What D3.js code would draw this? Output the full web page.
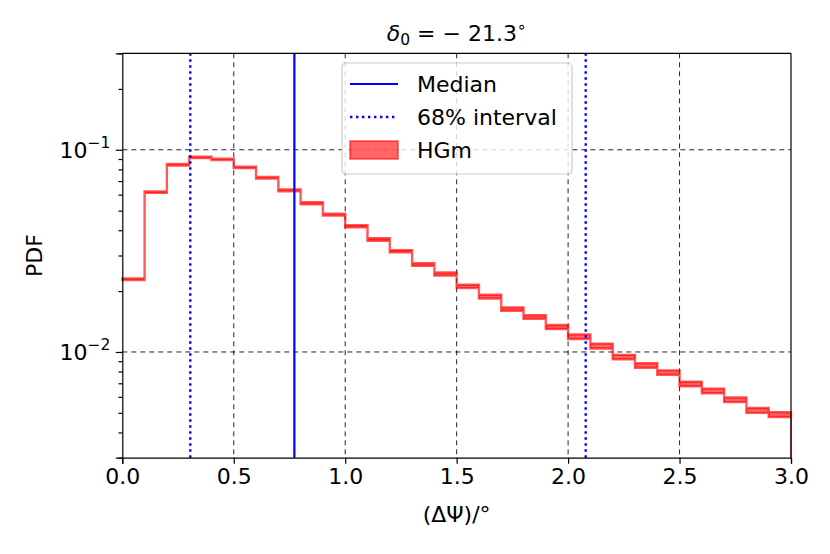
<!DOCTYPE html>
<html>
<meta charset="utf-8" />
<style>
  body { margin: 0; background: #fff; }
  text { font-family: "DejaVu Sans", sans-serif; fill: #000; }
  .grid line { stroke: #000; stroke-width: 1; stroke-dasharray: 5, 4; opacity: 0.85; }
</style>
<body>
<script src="https://d3js.org/d3.v7.min.js"></script>
<script>
  // histogram bins of HGm, width 0.1 deg
  let binStarts = [0.0, 0.1, 0.2, 0.3, 0.4, 0.5, 0.6, 0.7, 0.8, 0.9,
    1.0, 1.1, 1.2, 1.3, 1.4, 1.5, 1.6, 1.7, 1.8, 1.9,
    2.0, 2.1, 2.2, 2.3, 2.4, 2.5, 2.6, 2.7, 2.8, 2.9];
  let hgmLow = [0.0227, 0.0612, 0.0836, 0.0910, 0.0889, 0.0811, 0.0720, 0.0624, 0.0538, 0.0473,
    0.0414, 0.0355, 0.0311, 0.0267, 0.0239, 0.0207, 0.0184, 0.0160, 0.0146, 0.0130,
    0.0116, 0.0104, 0.00920, 0.00835, 0.00771, 0.00677, 0.00625, 0.00565, 0.00500, 0.00477];
  let hgmHigh = [0.0231, 0.0622, 0.0850, 0.0924, 0.0903, 0.0825, 0.0734, 0.0636, 0.0550, 0.0483,
    0.0424, 0.0365, 0.0319, 0.0275, 0.0247, 0.0215, 0.0192, 0.0166, 0.0152, 0.0136,
    0.0122, 0.0110, 0.00968, 0.00879, 0.00811, 0.00713, 0.00659, 0.00595, 0.00528, 0.00503];
  let binEnd = 3.0;
  let median = 0.772;
  let interval68 = [0.305, 2.079];
  let xTicks = [0.0, 0.5, 1.0, 1.5, 2.0, 2.5, 3.0];
  let yMajor = [0.01, 0.1];
  let yMinor = [0.003, 0.004, 0.005, 0.006, 0.007, 0.008, 0.009,
    0.02, 0.03, 0.04, 0.05, 0.06, 0.07, 0.08, 0.09, 0.2, 0.3];
  let legendLabels = ["Median", "68% interval", "HGm"];

  let width = 830, height = 554;
  let margin = { top: 53.3, right: 39, bottom: 96.3, left: 122.3 };
  let innerW = width - margin.left - margin.right;
  let innerH = height - margin.top - margin.bottom;
  let fs = 22;

  let svg = d3.select("body").append("svg")
    .attr("width", width).attr("height", height);

  let x = d3.scaleLinear().domain([0, 3]).range([0, innerW]);
  let y = d3.scaleLog().domain([0.003, 0.3]).range([innerH, 0]);

  let g = svg.append("g")
    .attr("transform", "translate(" + margin.left + "," + margin.top + ")");

  // grid
  let grid = g.append("g").attr("class", "grid");
  grid.selectAll(".gx").data(xTicks.slice(1, -1)).join("line")
    .attr("x1", d => x(d)).attr("x2", d => x(d))
    .attr("y1", 0).attr("y2", innerH);
  grid.selectAll(".gy").data(yMajor).join("line")
    .attr("class", "gy")
    .attr("x1", 0).attr("x2", innerW)
    .attr("y1", d => y(d)).attr("y2", d => y(d));

  // HGm band (step)
  let pts = binStarts.map((b, i) => ({ x: b, lo: hgmLow[i], hi: hgmHigh[i] }));
  pts.push({ x: binEnd, lo: hgmLow[hgmLow.length - 1], hi: hgmHigh[hgmHigh.length - 1] });

  let band = d3.area()
    .curve(d3.curveStepAfter)
    .x(d => x(d.x))
    .y0(d => y(d.lo))
    .y1(d => y(d.hi));

  g.append("path")
    .datum(pts)
    .attr("d", band)
    .attr("fill", "red")
    .attr("fill-opacity", 0.6)
    .attr("stroke", "red")
    .attr("stroke-opacity", 0.65)
    .attr("stroke-width", 2.4)
    .attr("stroke-linejoin", "miter");

  // closing edge down to the axis
  g.append("line")
    .attr("x1", x(binEnd)).attr("x2", x(binEnd))
    .attr("y1", y(hgmLow[hgmLow.length - 1])).attr("y2", innerH)
    .attr("stroke", "red").attr("stroke-opacity", 0.7).attr("stroke-width", 1.8);

  // median and 68% interval
  g.append("line")
    .attr("x1", x(median)).attr("x2", x(median))
    .attr("y1", 0).attr("y2", innerH)
    .attr("stroke", "blue").attr("stroke-width", 2.2);

  g.selectAll(".ci").data(interval68).join("line")
    .attr("class", "ci")
    .attr("x1", d => x(d)).attr("x2", d => x(d))
    .attr("y1", 0).attr("y2", innerH)
    .attr("stroke", "blue").attr("stroke-width", 2.4)
    .attr("stroke-dasharray", "2.4,3.6");

  // axes
  let xAxis = d3.axisBottom(x).tickValues(xTicks)
    .tickFormat(d3.format(".1f")).tickSize(6).tickPadding(5);
  let gx = g.append("g").attr("transform", "translate(0," + innerH + ")").call(xAxis);
  gx.selectAll("text").attr("font-size", fs).attr("font-family", "DejaVu Sans");

  let yAxis = d3.axisLeft(y).tickValues(yMajor).tickFormat("").tickSize(6.5);
  let gy = g.append("g").call(yAxis);
  let yMin = d3.axisLeft(y).tickValues(yMinor).tickFormat("").tickSize(3.8);
  g.append("g").call(yMin).select(".domain").remove();

  [gx, gy].forEach(a => {
    a.select(".domain").attr("stroke", "#000").attr("stroke-width", 1.2);
  });
  g.selectAll(".tick line").attr("stroke", "#000").attr("stroke-width", 1.2);

  // top and right spines
  g.append("line").attr("x1", 0).attr("x2", innerW).attr("y1", 0).attr("y2", 0)
    .attr("stroke", "#000").attr("stroke-width", 1.2);
  g.append("line").attr("x1", innerW).attr("x2", innerW).attr("y1", 0).attr("y2", innerH)
    .attr("stroke", "#000").attr("stroke-width", 1.2);

  // y tick labels 10^-k
  yMajor.forEach(v => {
    let e = Math.round(Math.log10(v));
    let t = g.append("text")
      .attr("x", -12).attr("y", y(v) + 8)
      .attr("text-anchor", "end")
      .attr("font-size", fs);
    t.append("tspan").text("10");
    t.append("tspan").attr("dy", -10).attr("font-size", 15.5).text("\u2212" + (-e));
  });

  // axis labels
  svg.append("text")
    .attr("transform", "translate(42," + (margin.top + innerH / 2) + ") rotate(-90)")
    .attr("text-anchor", "middle")
    .attr("font-size", fs)
    .text("PDF");

  svg.append("text")
    .attr("x", margin.left + innerW / 2).attr("y", 522)
    .attr("text-anchor", "middle")
    .attr("font-size", fs)
    .text("(\u0394\u03A8)/\u00B0");

  // title: delta_0 = -21.3 deg
  let title = svg.append("text")
    .attr("x", margin.left + innerW / 2).attr("y", 41)
    .attr("text-anchor", "middle")
    .attr("font-size", fs);
  title.append("tspan").attr("font-style", "italic").text("\u03B4");
  title.append("tspan").attr("dy", 4).attr("font-size", 15.5).text("0");
  title.append("tspan").attr("dy", -4).text(" = \u2212 21.3");
  title.append("tspan").attr("dy", -9).attr("font-size", 15.5).text("\u2218");

  // legend
  let lg = g.append("g").attr("transform", "translate(" + (342 - margin.left) + "," + (63 - margin.top) + ")");
  lg.append("rect")
    .attr("width", 230).attr("height", 111)
    .attr("rx", 4)
    .attr("fill", "#fff").attr("fill-opacity", 0.8)
    .attr("stroke", "#ccc").attr("stroke-width", 1.2);

  let rowY = [21, 54, 87];
  lg.append("line").attr("x1", 8).attr("x2", 56).attr("y1", rowY[0]).attr("y2", rowY[0])
    .attr("stroke", "blue").attr("stroke-width", 2.2);
  lg.append("line").attr("x1", 8).attr("x2", 56).attr("y1", rowY[1]).attr("y2", rowY[1])
    .attr("stroke", "blue").attr("stroke-width", 2.4).attr("stroke-dasharray", "2.4,3.6");
  lg.append("rect").attr("x", 8).attr("y", rowY[2] - 9).attr("width", 48).attr("height", 18)
    .attr("fill", "red").attr("fill-opacity", 0.6)
    .attr("stroke", "red").attr("stroke-opacity", 0.6).attr("stroke-width", 1.6);

  lg.selectAll(".lt").data(legendLabels).join("text")
    .attr("class", "lt")
    .attr("x", 75).attr("y", (d, i) => rowY[i] + 8)
    .attr("font-size", fs)
    .text(d => d);
</script>
</body>
</html>
